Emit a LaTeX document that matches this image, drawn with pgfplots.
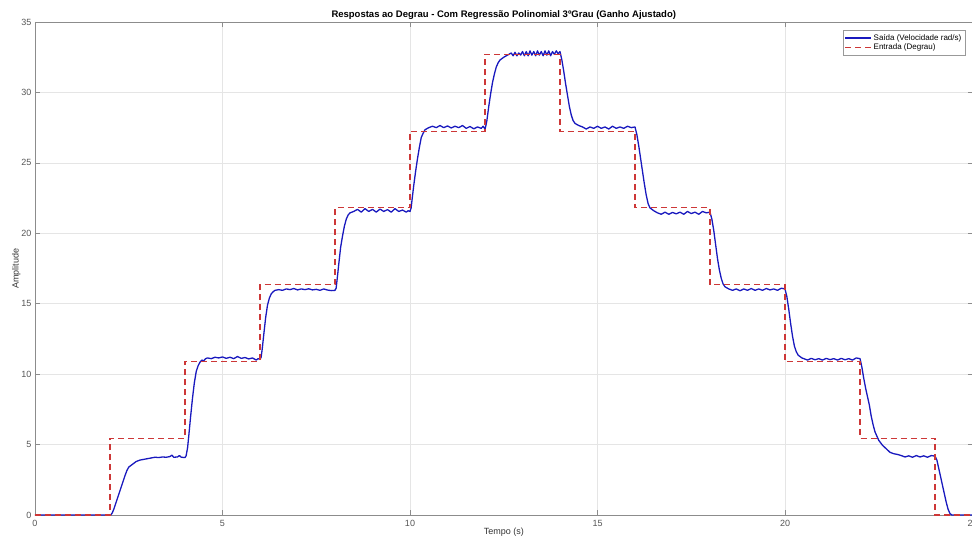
\documentclass[border=0pt]{standalone}
\usepackage{fontspec}
\setmainfont{Liberation Sans}
\usepackage{pgfplots}
\pgfplotsset{compat=1.18}
\definecolor{saida}{RGB}{25,25,190}
\definecolor{entrada}{RGB}{205,55,55}
\definecolor{ticktext}{RGB}{85,85,85}

\begin{document}
\begin{tikzpicture}
\begin{axis}[
  name=ax,
  scale only axis, width=937.5pt, height=493pt,
  xmin=0, xmax=25, ymin=0, ymax=35,
  xtick={0,5,10,15,20,25}, ytick={0,5,10,15,20,25,30,35},
  grid=major, major grid style={black!10, line width=0.6pt},
  axis line style={black!45, line width=0.7pt},
  tick style={black!45, line width=0.7pt}, tick align=inside, major tick length=5pt,
  tick label style={font=\fontsize{9}{10}\selectfont, text=ticktext},
  xticklabel style={yshift=-2pt},
  /pgf/number format/assume math mode=true,
  title={\textbf{Respostas ao Degrau - Com Regressão Polinomial 3ºGrau (Ganho Ajustado)}},
  title style={font=\fontsize{9.5}{11}\selectfont, yshift=-7pt},
  xlabel={Tempo (s)}, ylabel={Amplitude},
  label style={font=\fontsize{9}{10}\selectfont, text=black!80},
  xlabel style={yshift=6pt}, ylabel style={yshift=-6pt},
  legend cell align=left,
  legend style={at={(1,1)}, anchor=north east, xshift=-7pt, yshift=-8pt,
    font=\fontsize{8}{9}\selectfont, draw=black!40, inner sep=2pt,
    row sep=-2pt},
  legend image code/.code={\draw[mark repeat=2,mark phase=2,#1] plot coordinates {(0cm,0cm) (0.45cm,0cm) (0.9cm,0cm)};},
]
\addplot[saida, line width=1.3pt, line join=round] coordinates {
(0,0) (2.02,0) (2.06,0.15) (2.1,0.4) (2.15,0.8) (2.2,1.2) (2.25,1.6) (2.3,2.0) (2.35,2.4) (2.4,2.8) (2.45,3.15) (2.5,3.4) (2.6,3.6) (2.7,3.8) (2.8,3.9) (2.9,3.95) (3.0,4.0) (3.1,4.05) (3.2,4.1) (3.3,4.08) (3.4,4.12) (3.5,4.1) (3.6,4.15) (3.65,4.25) (3.7,4.1) (3.8,4.12) (3.85,4.22) (3.9,4.1) (4.0,4.08) (4.03,4.2)
(4.07,4.8) (4.1,5.6) (4.15,7.0) (4.2,8.3) (4.25,9.4) (4.3,10.2) (4.35,10.6) (4.4,10.85) (4.45,11.0) (4.5,10.95) (4.55,11.1) (4.6,11.15)
(4.7,11.1) (4.8,11.2) (4.9,11.15) (5.0,11.22) (5.1,11.12) (5.2,11.2) (5.3,11.1) (5.4,11.25) (5.5,11.12) (5.6,11.18) (5.7,11.08) (5.8,11.15) (5.9,11.0) (5.95,11.1) (6.0,11.05) (6.03,11.2)
(6.06,11.8) (6.1,12.8) (6.15,14.0) (6.2,14.9) (6.25,15.4) (6.3,15.7) (6.35,15.85) (6.4,15.95)
(6.5,16.0) (6.6,15.95) (6.7,16.05) (6.8,16.0) (6.9,16.08) (7.0,15.98) (7.1,16.05) (7.2,16.0) (7.3,16.06) (7.4,15.98) (7.5,16.02) (7.6,15.95) (7.7,16.05) (7.8,15.97) (7.9,15.93) (8.0,15.95) (8.03,16.1)
(8.06,16.8) (8.1,17.8) (8.15,19.0) (8.2,19.8) (8.25,20.5) (8.3,21.0) (8.35,21.3) (8.4,21.45) (8.5,21.55)
(8.6,21.7) (8.7,21.5) (8.8,21.75) (8.9,21.55) (9.0,21.7) (9.1,21.5) (9.2,21.72) (9.3,21.55) (9.4,21.68) (9.5,21.5) (9.6,21.75) (9.7,21.55) (9.8,21.65) (9.9,21.5) (9.95,21.6) (10.0,21.55) (10.03,21.8)
(10.06,22.5) (10.1,23.4) (10.15,24.4) (10.2,25.3) (10.25,26.1) (10.3,26.8) (10.35,27.1) (10.4,27.35) (10.5,27.5)
(10.6,27.6) (10.7,27.5) (10.8,27.65) (10.9,27.5) (11.0,27.62) (11.1,27.48) (11.2,27.6) (11.3,27.5) (11.4,27.65) (11.5,27.45) (11.6,27.58) (11.7,27.42) (11.8,27.55) (11.9,27.45) (11.95,27.6) (12.0,27.4) (12.02,27.6)
(12.05,28.0) (12.1,29.0) (12.15,29.9) (12.2,30.7) (12.25,31.3) (12.3,31.8) (12.35,32.1) (12.4,32.3) (12.5,32.5) (12.6,32.65)
(12.7,32.8) (12.75,32.6) (12.8,32.85) (12.85,32.6) (12.9,32.8) (12.95,32.65) (13.0,32.9) (13.05,32.6) (13.1,32.9) (13.15,32.6) (13.2,32.95) (13.25,32.65) (13.3,32.9) (13.35,32.6) (13.4,32.95) (13.45,32.65) (13.5,32.9) (13.55,32.6) (13.6,32.95) (13.65,32.65) (13.7,32.95) (13.75,32.6) (13.8,32.9) (13.85,32.7) (13.9,32.95) (13.95,32.75) (14.0,32.9)
(14.05,32.3) (14.1,31.5) (14.15,30.6) (14.2,29.8) (14.25,29.0) (14.3,28.4) (14.35,28.0) (14.4,27.8) (14.5,27.65)
(14.6,27.55) (14.7,27.4) (14.8,27.55) (14.9,27.45) (15.0,27.6) (15.1,27.45) (15.2,27.55) (15.3,27.4) (15.4,27.6) (15.5,27.45) (15.6,27.55) (15.7,27.45) (15.8,27.6) (15.9,27.5) (16.0,27.55)
(16.05,27.0) (16.1,26.2) (16.15,25.3) (16.2,24.4) (16.25,23.5) (16.3,22.7) (16.35,22.1) (16.4,21.8) (16.5,21.6)
(16.6,21.45) (16.7,21.35) (16.8,21.5) (16.9,21.35) (17.0,21.48) (17.1,21.38) (17.2,21.5) (17.3,21.35) (17.4,21.55) (17.5,21.4) (17.6,21.5) (17.7,21.35) (17.8,21.55) (17.9,21.45) (18.0,21.5)
(18.05,21.0) (18.1,20.2) (18.15,19.2) (18.2,18.2) (18.25,17.4) (18.3,16.8) (18.35,16.4) (18.4,16.2) (18.5,16.05)
(18.6,15.95) (18.7,16.05) (18.8,15.92) (18.9,16.05) (19.0,15.95) (19.1,16.08) (19.2,15.95) (19.3,16.05) (19.4,15.95) (19.5,16.08) (19.6,15.98) (19.7,16.05) (19.8,15.95) (19.9,16.1) (20.0,16.05)
(20.05,15.5) (20.1,14.6) (20.15,13.6) (20.2,12.7) (20.25,12.0) (20.3,11.6) (20.35,11.35) (20.45,11.15)
(20.5,11.1) (20.6,11.0) (20.7,11.12) (20.8,11.02) (20.9,11.1) (21.0,11.0) (21.1,11.12) (21.2,11.03) (21.3,11.1) (21.4,11.0) (21.5,11.12) (21.6,11.02) (21.7,11.1) (21.8,11.0) (21.9,11.15) (22.0,11.1)
(22.05,10.5) (22.1,9.7) (22.15,9.0) (22.2,8.4) (22.25,7.8) (22.3,7.0) (22.35,6.4) (22.4,5.9) (22.45,5.6) (22.5,5.3) (22.6,4.95) (22.7,4.7) (22.8,4.45) (22.9,4.35) (23.0,4.3) (23.1,4.22)
(23.2,4.12) (23.3,4.2) (23.4,4.1) (23.5,4.22) (23.6,4.12) (23.7,4.2) (23.8,4.1) (23.9,4.22) (24.0,4.18)
(24.05,3.9) (24.1,3.3) (24.15,2.7) (24.2,2.1) (24.25,1.5) (24.3,0.9) (24.35,0.4) (24.4,0.1) (24.45,0) (25,0)
};
\addlegendentry{Saída (Velocidade rad/s)}
\addplot[entrada, line width=1.1pt, dash pattern=on 6pt off 4pt] coordinates {
(0,0) (2,0) (2,5.45) (4,5.45) (4,10.9) (6,10.9) (6,16.35) (8,16.35) (8,21.8) (10,21.8) (10,27.25) (12,27.25) (12,32.7) (14,32.7) (14,27.25) (16,27.25) (16,21.8) (18,21.8) (18,16.35) (20,16.35) (20,10.9) (22,10.9) (22,5.45) (24,5.45) (24,0) (25,0)
};
\addlegendentry{Entrada (Degrau)}
\end{axis}
\pgfresetboundingbox
\path ([shift={(-35pt,-27pt)}]ax.south west) rectangle ([shift={(937pt,515pt)}]ax.south west);
\end{tikzpicture}
\end{document}
